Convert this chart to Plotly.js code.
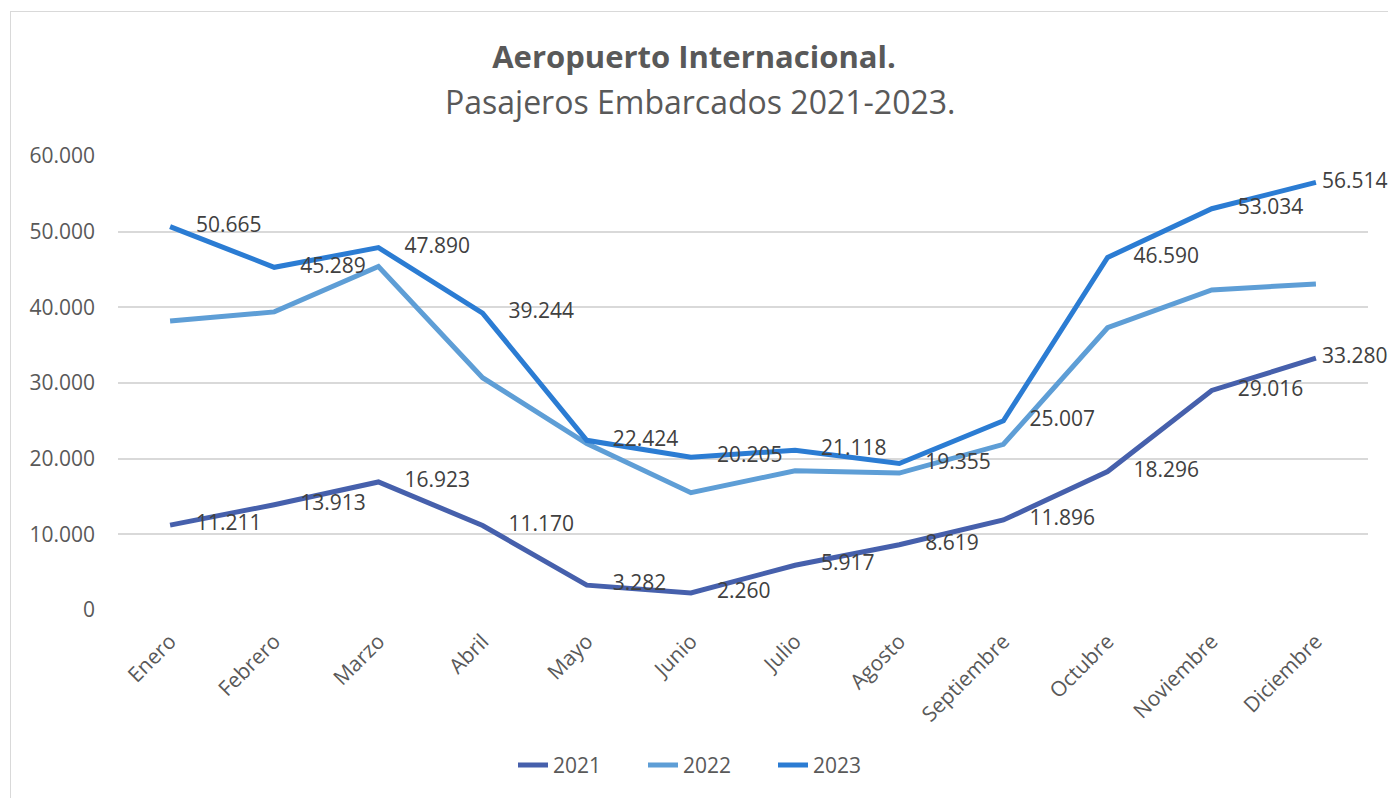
<!DOCTYPE html>
<html lang="es">
<head>
  <meta charset="UTF-8">
  <title>Aeropuerto Internacional - Pasajeros Embarcados 2021-2023</title>
  <script src="https://cdn.plot.ly/plotly-3.0.1.min.js"></script>
  <style>
    body {
      margin: 0;
      background: #ffffff;
      font-family: "Open Sans", sans-serif;
    }
    #frame {
      position: absolute;
      left: 10px;
      top: 11px;
      width: 1400px;
      height: 800px;
      border: 1px solid #d9d9d9;
    }
    #chart {
      position: absolute;
      left: 0;
      top: 0;
      width: 1388px;
      height: 798px;
    }
  </style>
</head>
<body>
  <div id="frame"></div>
  <div id="chart"></div>

  <script>
    const meses = ['Enero', 'Febrero', 'Marzo', 'Abril', 'Mayo', 'Junio', 'Julio',
      'Agosto', 'Septiembre', 'Octubre', 'Noviembre', 'Diciembre'];

    const pasajeros2021 = [11211, 13913, 16923, 11170, 3282, 2260, 5917, 8619, 11896, 18296, 29016, 33280];
    // 2022 has no labels in the picture
    const pasajeros2022 = [38200, 39400, 45400, 30700, 22000, 15500, 18400, 18100, 21900, 37300, 42300, 43100];
    const pasajeros2023 = [50665, 45289, 47890, 39244, 22424, 20205, 21118, 19355, 25007, 46590, 53034, 56514];

    function miles(v) {
      return String(v).replace(/\B(?=(\d{3})+(?!\d))/g, '.');
    }

    const labelFont = { family: 'Open Sans, sans-serif', size: 21, color: '#404040' };
    // invisible markers push the labels away from the line, like Excel does;
    // the last one is small so the label stays inside the chart
    const hiddenMarker = {
      size: meses.map((m, i) => i === meses.length - 1 ? 8 : 40),
      color: 'rgba(0,0,0,0)',
      opacity: 0,
      line: { width: 0, color: 'rgba(0,0,0,0)' }
    };

    const data = [
      {
        x: meses, y: pasajeros2021, name: '2021',
        type: 'scatter', mode: 'lines+markers+text',
        line: { color: '#4660ac', width: 5 },
        marker: hiddenMarker,
        text: pasajeros2021.map(miles),
        textposition: 'middle right',
        textfont: labelFont,
        cliponaxis: false
      },
      {
        x: meses, y: pasajeros2022, name: '2022',
        type: 'scatter', mode: 'lines',
        line: { color: '#5e9ed6', width: 5 }
      },
      {
        x: meses, y: pasajeros2023, name: '2023',
        type: 'scatter', mode: 'lines+markers+text',
        line: { color: '#2b7cd3', width: 5 },
        marker: hiddenMarker,
        text: pasajeros2023.map(miles),
        textposition: 'middle right',
        textfont: labelFont,
        cliponaxis: false
      }
    ];

    const layout = {
      width: 1388,
      height: 798,
      margin: { l: 118, r: 20, t: 156, b: 186 },
      paper_bgcolor: 'rgba(0,0,0,0)',
      plot_bgcolor: 'rgba(0,0,0,0)',
      separators: ',.',
      font: { family: 'Open Sans, sans-serif', color: '#595959' },
      title: {
        text: '<b>Aeropuerto Internacional.</b>',
        font: { size: 31, color: '#595959' },
        x: 0.5,
        xanchor: 'center',
        xref: 'container',
        yref: 'container',
        y: 1 - 57 / 798,
        yanchor: 'middle'
      },
      annotations: [{
        text: 'Pasajeros Embarcados 2021-2023.',
        xref: 'paper', yref: 'paper',
        x: 0.4656, y: (612 - 101) / 456,
        xanchor: 'center', yanchor: 'middle',
        showarrow: false,
        font: { size: 32, color: '#595959' }
      }],
      xaxis: {
        type: 'category',
        range: [-0.5, 11.5],
        tickangle: -45,
        tickfont: { size: 21, color: '#595959' },
        ticklabelstandoff: 14,
        showgrid: false,
        zeroline: false,
        showline: false,
        ticks: '',
        automargin: false
      },
      yaxis: {
        range: [0, 60000],
        dtick: 10000,
        tickformat: ',d',
        tickfont: { size: 21, color: '#595959' },
        gridcolor: '#d9d9d9',
        gridwidth: 2,
        zeroline: false,
        showline: false,
        ticks: '',
        ticklabelstandoff: 22,
        automargin: false
      },
      showlegend: true,
      legend: {
        orientation: 'h',
        x: 0.472,
        xanchor: 'center',
        y: -0.342,
        yanchor: 'middle',
        entrywidth: 85,
        entrywidthmode: 'pixels',
        font: { size: 21, color: '#595959' }
      }
    };

    Plotly.newPlot('chart', data, layout, { displayModeBar: false, staticPlot: true });
  </script>
</body>
</html>
